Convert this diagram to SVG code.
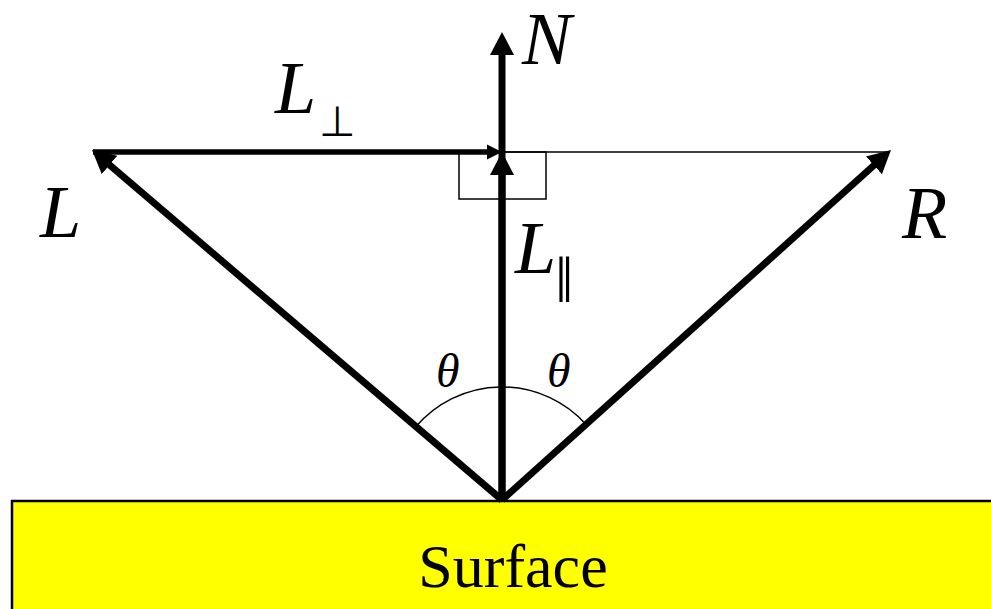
<svg xmlns="http://www.w3.org/2000/svg" width="991" height="609" viewBox="0 0 991 609">
<style>
text{font-family:"Liberation Serif","Times New Roman",serif;fill:#000}
.thick{stroke:#000;stroke-width:7;fill:none}
.thin{stroke:#000;stroke-width:1.5;fill:none}
.lbl{font-style:italic;font-size:74px}
.theta{font-style:italic;font-size:48px}
</style>
<defs>
<marker id="big" markerUnits="userSpaceOnUse" markerWidth="26" markerHeight="26" viewBox="0 -13 26 26" refX="2" refY="0" orient="auto">
<path d="M0,-12 L23,0 L0,12 z" fill="#000"/>
</marker>
<marker id="small" markerUnits="userSpaceOnUse" markerWidth="18" markerHeight="18" viewBox="0 -9 18 18" refX="2" refY="0" orient="auto">
<path d="M0,-7.5 L15,0 L0,7.5 z" fill="#000"/>
</marker>
</defs>
<g id="surface">
<rect x="12" y="501" width="1000" height="200" fill="#ffff00" stroke="#000" stroke-width="2.5"/>
<text x="513" y="587" text-anchor="middle" font-size="62">Surface</text>
</g>
<g id="connectors">
<rect x="459" y="152" width="87" height="47" class="thin"/>
<line x1="502" y1="152" x2="890" y2="152" class="thin"/>
<path d="M416,426.6 A113,113 0 0 1 586,424.4" class="thin"/>
<line x1="93" y1="152" x2="489" y2="152" stroke="#000" stroke-width="5.5" marker-end="url(#small)"/>
<line x1="502" y1="500" x2="502" y2="53" class="thick" marker-end="url(#big)"/>
<line x1="502" y1="500" x2="502" y2="173" class="thick" marker-end="url(#big)"/>
<line x1="502" y1="500" x2="108" y2="163.7" class="thick" marker-end="url(#big)"/>
<line x1="502" y1="500" x2="875.4" y2="164" class="thick" marker-end="url(#big)"/>
</g>
<g id="label-N"><text x="522" y="64" class="lbl" font-size="70">N</text></g>
<g id="label-L"><text x="40" y="237" class="lbl">L</text></g>
<g id="label-R"><text x="902" y="238" class="lbl">R</text></g>
<g id="label-Lperp"><text x="275" y="113" class="lbl">L</text><text x="319" y="136" font-size="42">⊥</text></g>
<g id="label-Lpar"><text x="515" y="273" class="lbl">L</text><text x="555" y="302" font-size="66">‖</text></g>
<g id="label-theta"><text x="436" y="387" class="theta">θ</text><text x="547" y="387" class="theta">θ</text></g>
</svg>
